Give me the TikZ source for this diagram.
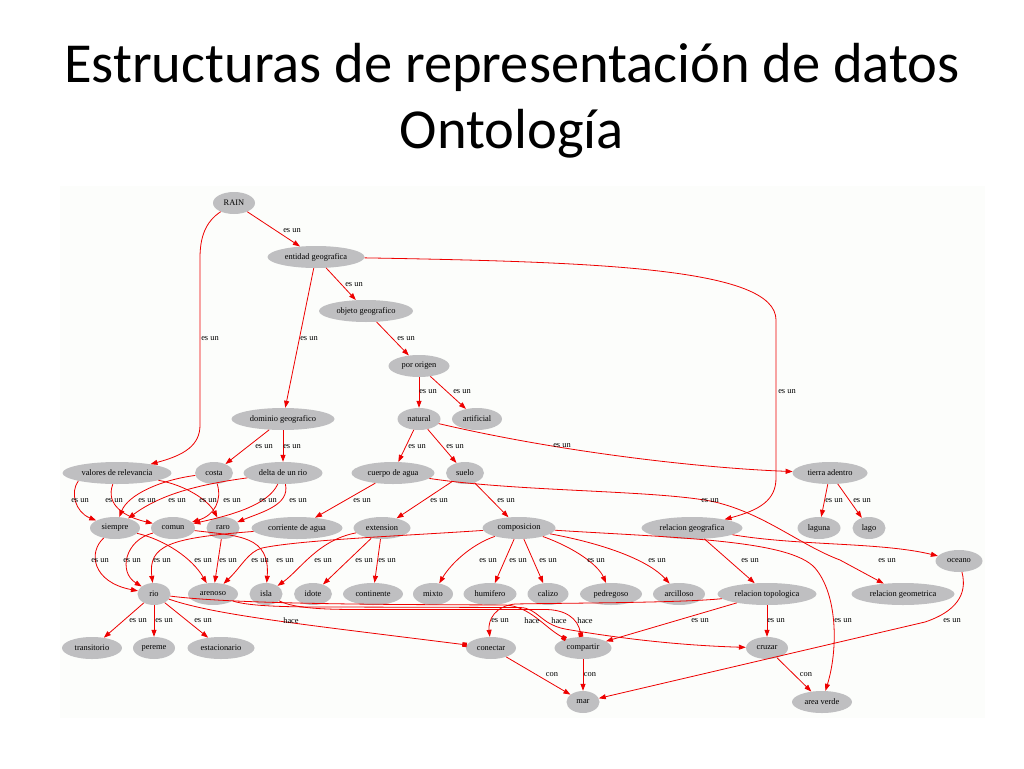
\documentclass[tikz,border=0pt]{standalone}
\usepackage{fontspec}
\setmainfont{Liberation Serif}
\newfontfamily\ttlfont{Carlito}
\usetikzlibrary{shapes.geometric,arrows.meta}
\definecolor{ngray}{RGB}{191,191,193}
\definecolor{ered}{RGB}{238,0,0}
\definecolor{dbg}{RGB}{252,253,251}
\newcommand\ndfont{\fontsize{8.4}{10}\selectfont}
\begin{document}
\begin{tikzpicture}[x=1pt,y=-1pt,
  nd/.style={ellipse, fill=ngray, inner sep=0pt, minimum height=22pt, font=\ndfont},
  lb/.style={inner sep=0pt, font=\ndfont},
  ed/.style={draw=ered, line width=0.8pt, -{Triangle[length=7pt,width=5pt]}},
  hc/.style={draw=ered, line width=0.8pt, -{Square[length=4.5pt,width=4.5pt]}},
  ttl/.style={font=\ttlfont\fontsize{56.5}{68}\selectfont, anchor=base, inner sep=0pt}]
\useasboundingbox (0,0) rectangle (1024,768);
\fill[white] (0,0) rectangle (1024,768);
\fill[dbg] (60,186) rectangle (985,718);
% title
\node[ttl] (t1) at (512,82) {Estructuras de representación de datos};
\node[ttl] (t2) at (512,148) {Ontología};
% nodes
\node[nd, minimum width=42pt] (rain) at (234,203) {RAIN};
\node[nd, minimum width=97pt] (ent) at (316,257) {entidad geografica};
\node[nd, minimum width=94pt] (obj) at (366,311) {objeto geografico};
\node[nd, minimum width=61pt] (por) at (419,366) {por origen};
\node[nd, minimum width=103pt] (dom) at (283,419) {dominio geografico};
\node[nd, minimum width=43pt] (nat) at (419,419) {natural};
\node[nd, minimum width=50pt] (art) at (477,419) {artificial};
\node[nd, minimum width=109pt] (val) at (117,473) {valores de relevancia};
\node[nd, minimum width=38pt] (costa) at (214,473) {costa};
\node[nd, minimum width=79pt] (delta) at (283,473) {delta de un rio};
\node[nd, minimum width=83pt] (cuerpo) at (393,473) {cuerpo de agua};
\node[nd, minimum width=38pt] (suelo) at (465,473) {suelo};
\node[nd, minimum width=75pt] (tierra) at (830,473) {tierra adentro};
\node[nd, minimum width=50pt] (siempre) at (115,528) {siempre};
\node[nd, minimum width=44pt] (comun) at (173,528) {comun};
\node[nd, minimum width=33pt] (raro) at (223,528) {raro};
\node[nd, minimum width=91pt] (corr) at (297,528) {corriente de agua};
\node[nd, minimum width=57pt] (ext) at (382,528) {extension};
\node[nd, minimum width=73pt] (comp) at (519,528) {composicion};
\node[nd, minimum width=101pt] (relgeo) at (692,528) {relacion geografica};
\node[nd, minimum width=43pt] (laguna) at (819,528) {laguna};
\node[nd, minimum width=33pt] (lago) at (869,528) {lago};
\node[nd, minimum width=47pt] (oceano) at (959,561) {oceano};
\node[nd, minimum width=33pt] (rio) at (154,594) {rio};
\node[nd, minimum width=50pt] (aren) at (213,594) {arenoso};
\node[nd, minimum width=33pt] (isla) at (266,594) {isla};
\node[nd, minimum width=38pt] (idote) at (313,594) {idote};
\node[nd, minimum width=60pt] (cont) at (373,594) {continente};
\node[nd, minimum width=40pt] (mixto) at (433,594) {mixto};
\node[nd, minimum width=53pt] (humi) at (490,594) {humifero};
\node[nd, minimum width=41pt] (calizo) at (548,594) {calizo};
\node[nd, minimum width=62pt] (pedre) at (611,594) {pedregoso};
\node[nd, minimum width=52pt] (arci) at (679,594) {arcilloso};
\node[nd, minimum width=99pt] (reltop) at (767,594) {relacion topologica};
\node[nd, minimum width=103pt] (relgeom) at (903,594) {relacion geometrica};
\node[nd, minimum width=60pt] (trans) at (92,648) {transitorio};
\node[nd, minimum width=42pt] (pereme) at (154,648) {pereme};
\node[nd, minimum width=67pt] (estac) at (221,648) {estacionario};
\node[nd, minimum width=50pt] (conectar) at (491,648) {conectar};
\node[nd, minimum width=57pt] (compartir) at (583,648) {compartir};
\node[nd, minimum width=42pt] (cruzar) at (767,648) {cruzar};
\node[nd, minimum width=33pt] (mar) at (583,702) {mar};
\node[nd, minimum width=60pt] (area) at (822,702) {area verde};
% edges
\draw[ed] (rain) -- (ent);
\draw[ed] (rain) .. controls (205,222) and (200,238) .. (200,258) -- (200,425) .. controls (200,445) and (185,455) .. (val);
\draw[ed] (ent) -- (obj);
\draw[ed] (ent) -- (dom);
\draw[ed] (obj) -- (por);
\draw[ed] (por) -- (nat);
\draw[ed] (por) -- (art);
\draw[ed] (ent) .. controls (600,262) and (776,268) .. (776,320) -- (776,478) .. controls (776,500) and (760,510) .. (relgeo);
\draw[ed] (nat) .. controls (560,452) and (700,468) .. (tierra);
\draw[ed] (nat) -- (cuerpo);
\draw[ed] (nat) -- (suelo);
\draw[ed] (dom) -- (costa);
\draw[ed] (dom) -- (delta);
\draw[ed] (tierra) -- (laguna);
\draw[ed] (tierra) -- (lago);
\draw[ed] (val.south west) .. controls (70,492) and (75,512) .. (siempre);
\draw[ed] (val) .. controls (105,505) and (125,517) .. (comun);
\draw[ed] (val) .. controls (185,485) and (208,500) .. (raro);
\draw[ed] (costa) .. controls (160,480) and (128,495) .. (siempre);
\draw[ed] (delta) .. controls (195,485) and (160,495) .. (siempre);
\draw[ed] (costa) .. controls (222,500) and (215,515) .. (comun);
\draw[ed] (delta) .. controls (268,505) and (232,515) .. (comun);
\draw[ed] (delta) .. controls (290,505) and (262,512) .. (raro);
\draw[ed] (cuerpo) -- (corr);
\draw[ed] (suelo) -- (ext);
\draw[ed] (suelo) -- (comp);
\draw[ed] (cuerpo) .. controls (520,492) and (660,490) .. (715,502) .. controls (765,514) and (800,545) .. (840,560) -- (relgeom);
\draw[ed] (relgeo) .. controls (800,546) and (880,542) .. (oceano);
\draw[ed] (relgeo) -- (reltop);
\draw[ed] (comp) .. controls (680,538) and (790,540) .. (815,568) .. controls (838,595) and (838,650) .. (area);
\draw[ed] (comp) .. controls (470,545) and (450,565) .. (mixto);
\draw[ed] (comp) -- (humi);
\draw[ed] (comp) -- (calizo);
\draw[ed] (comp) .. controls (575,548) and (598,565) .. (pedre);
\draw[ed] (comp) .. controls (610,545) and (650,562) .. (arci);
\draw[ed] (comp) .. controls (400,536) and (300,540) .. (262,548) .. controls (248,552) and (242,566) .. (aren);
\draw[ed] (corr) .. controls (170,538) and (148,545) .. (rio);
\draw[ed] (siempre) .. controls (88,552) and (92,582) .. (rio);
\draw[ed] (comun) .. controls (125,540) and (118,572) .. (rio);
\draw[ed] (siempre) .. controls (165,540) and (192,558) .. (aren);
\draw[ed] (raro) -- (aren);
\draw[ed] (comun) .. controls (240,536) and (270,536) .. (isla);
\draw[ed] (ext) .. controls (318,540) and (300,570) .. (isla);
\draw[ed] (ext) -- (idote);
\draw[ed] (ext) -- (cont);
\draw[ed] (rio) -- (trans);
\draw[ed] (rio) -- (pereme);
\draw[ed] (rio) -- (estac);
\draw[hc] (rio) .. controls (215,615) and (300,624) .. (conectar);
\draw[hc] (rio) .. controls (240,605) and (420,604.5) .. (505,605) .. controls (530,606) and (545,628) .. (compartir);
\draw[ed] (aren) .. controls (250,607) and (300,607) .. (330,607) -- (520,607.5) .. controls (538,608) and (540,624) .. (565,629) .. controls (640,642) and (700,646) .. (cruzar);
\draw[hc] (isla) .. controls (295,609) and (330,609.5) .. (360,609.5) -- (545,609.5) .. controls (565,609.5) and (578,618) .. (compartir);
\draw[ed] (reltop) .. controls (680,603) and (560,603) .. (515,604) .. controls (495,606) and (488,620) .. (conectar);
\draw[ed] (reltop) -- (compartir);
\draw[ed] (reltop) -- (cruzar);
\draw[ed] (conectar) -- (mar);
\draw[ed] (compartir) -- (mar);
\draw[ed] (cruzar) -- (area);
\draw[ed] (oceano) .. controls (968,595) and (955,612) .. (925,622) -- (mar);
% edge labels
\foreach \p/\q in {292/231,210/339,354/285,309/339,406/339,428/392,462/392,787/392,
  264/447,292/447,417/447,455/447,562/446,
  80/501,114/501,147/501,177/501,208/501,232/501,268/501,298/501,362/501,439/501,506/501,710/501,834/501,862/501,
  100/561,132/561,162/561,203/561,228/561,260/561,285/561,323/561,364/561,387/561,488/561,518/561,548/561,596/561,657/561,750/561,887/561,
  138/621,164/621,203/621,500/621,700/621,776/621,843/621,952/621}
  \node[lb] at (\p,\q) {es un};
\foreach \p in {291,532,559,585}
  \node[lb] at (\p,621) {hace};
\foreach \p in {552,590,806}
  \node[lb] at (\p,675) {con};
\end{tikzpicture}
\end{document}
